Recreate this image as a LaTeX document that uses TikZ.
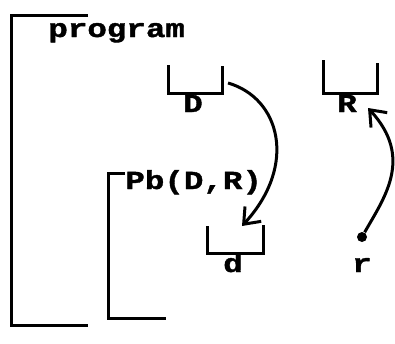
\documentclass[tikz,border=0pt]{standalone}
\usepackage{fontspec}
\newfontfamily\prfont[FakeStretch=1.25, BoldFeatures={FakeBold=1.5}]{Liberation Mono}
\usetikzlibrary{arrows.meta}

\tikzset{
  lbl/.style={font=\prfont\bfseries\fontsize{13}{13}\selectfont, inner sep=0pt},
  ln/.style={line width=1.5pt},
  arr/.style={ln, -{Straight Barb[length=7pt,width=11pt]}},
}

\begin{document}
\begin{tikzpicture}[x=0.5pt,y=-0.5pt]
\useasboundingbox (0,0) rectangle (395,343);
% program block
\draw[ln] (88,15) -- (11,15) -- (11,325) -- (88,325);
\node[lbl, anchor=base west] (prog) at (48,37) {program};
\draw[ln] (168,65) -- (168,93) -- (222,93) -- (222,66);
\node[lbl, anchor=base] (D) at (193,112) {D};
\draw[ln] (323,60) -- (323,93) -- (377,93) -- (377,63);
\node[lbl, anchor=base] (R) at (347,112) {R};
% Pb block
\draw[ln] (125,173) -- (108,173) -- (108,318) -- (166,318);
\node[lbl, anchor=base west] (pb) at (125,189) {Pb(D,R)};
\draw[ln] (207,226) -- (207,253) -- (263,253) -- (263,225);
\node[lbl, anchor=base] (d) at (233,272) {d};
\node[lbl, anchor=base] (r) at (362,272) {r};
\node[circle, fill, inner sep=0pt, minimum size=5pt] (rdot) at (362,237) {};
\coordinate (Dout) at (228,83);
\coordinate (din) at (242,226);
\coordinate (Rin) at (368,108);
\draw[arr] (Dout) .. controls (280,98) and (298,165) .. (din);
\draw[arr] (rdot) .. controls (384,198) and (414,158) .. (Rin);
\end{tikzpicture}
\end{document}
